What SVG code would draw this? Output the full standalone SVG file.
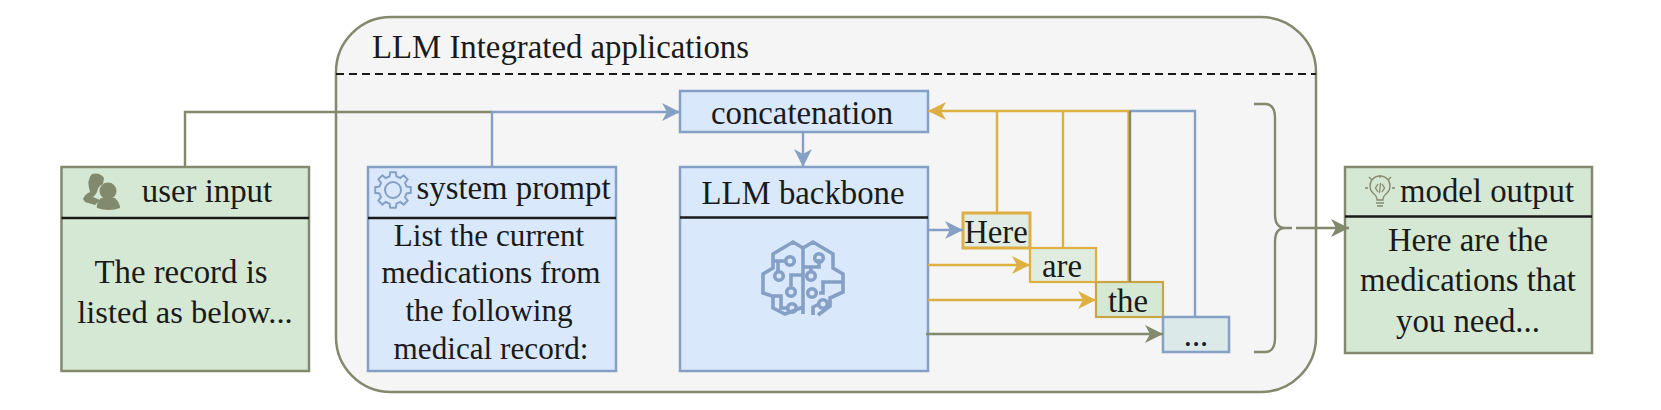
<svg xmlns="http://www.w3.org/2000/svg" width="1661" height="410" viewBox="0 0 1661 410">
<style>
text{font-family:"Liberation Serif","Times New Roman",serif;font-size:32.8px;fill:#1a1a1a;text-anchor:middle}
.s{font-size:31.2px}
.g{fill:#d5e8d4;stroke:#82896d;stroke-width:2.500}
.b{fill:#dae8fc;stroke:#85a0c4;stroke-width:2.500}
.d{stroke:#1a1a1a;stroke-width:2.500;fill:none}
.cb{stroke:#85a0c4;stroke-width:2.400;fill:none}
.cy{stroke:#deb043;stroke-width:2.400;fill:none}
.co{stroke:#82896d;stroke-width:2.400;fill:none}
.ic{fill:none;stroke:#85a0c4;stroke-width:3.600}
</style>
<defs>
<marker id="ab" markerUnits="userSpaceOnUse" markerWidth="20" markerHeight="20" refX="18" refY="10" orient="auto"><path d="M0 1L18 10L0 19L5 10Z" fill="#85a0c4"/></marker>
<marker id="ay" markerUnits="userSpaceOnUse" markerWidth="20" markerHeight="20" refX="18" refY="10" orient="auto"><path d="M0 1L18 10L0 19L5 10Z" fill="#deb043"/></marker>
<marker id="ao" markerUnits="userSpaceOnUse" markerWidth="20" markerHeight="20" refX="18" refY="10" orient="auto"><path d="M0 1L18 10L0 19L5 10Z" fill="#82896d"/></marker>
</defs>
<g id="container">
<rect x="336" y="17" width="980" height="375" rx="55" ry="55" fill="#f5f5f5" stroke="#82896d" stroke-width="2.500"/>
<path d="M336 74H1316" stroke="#1a1a1a" stroke-width="2" stroke-dasharray="8 5" fill="none"/>
<text x="372" y="58" style="text-anchor:start">LLM Integrated applications</text>
</g>
<g id="user-input">
<rect class="g" x="61.500" y="167" width="247.500" height="204"/>
<path class="d" d="M61.500 218H309"/>
<g fill="#82896d">
<path d="M92 174Q100 172 104 178L103 184Q98 186 97 192Q95 196 93 197L100 200L95 205L85 202L83 199Q85 194 90 192Q86 180 92 174Z"/>
<circle cx="108" cy="191" r="8.500"/>
<path d="M97 208Q96 203 101 198H115Q120 203 120 208Q109 212 97 208Z"/>
</g>
<text x="207" y="202">user input</text>
<text x="181" y="283">The record is</text>
<text x="185" y="323" style="font-size:32.5px">listed as below...</text>
</g>
<g id="system-prompt">
<rect class="b" x="368" y="167" width="248" height="204"/>
<path class="d" d="M368 218H616"/>
<g fill="none" stroke="#85a0c4" stroke-width="2" transform="translate(393 190)">
<circle r="8"/>
<path d="M13.600 -3.400L17.800 -2.800V2.800L13.600 3.400L12 7.200L14.600 10.600L10.600 14.600L7.200 12L3.400 13.600L2.800 17.800H-2.800L-3.400 13.600L-7.200 12L-10.600 14.600L-14.600 10.600L-12 7.200L-13.600 3.400L-17.800 2.800V-2.800L-13.600 -3.400L-12 -7.200L-14.600 -10.600L-10.600 -14.600L-7.200 -12L-3.400 -13.600L-2.800 -17.800H2.800L3.400 -13.600L7.200 -12L10.600 -14.600L14.600 -10.600L12 -7.200Z"/>
</g>
<text x="513.500" y="199">system prompt</text>
<text class="s" x="489" y="246">List the current</text>
<text class="s" x="491" y="283">medications from</text>
<text class="s" x="489" y="321">the following</text>
<text class="s" x="491" y="359">medical record:</text>
</g>
<g id="concatenation">
<rect class="b" x="680" y="91" width="248" height="41"/>
<text x="802" y="124">concatenation</text>
</g>
<g id="llm-backbone">
<rect class="b" x="680" y="167" width="248" height="204"/>
<path class="d" d="M680 217.500H928"/>
<text x="803" y="204">LLM backbone</text>
<g class="ic">
<path d="M803 248V314M803 248L793 242L773 254V268L763 274V293L772 296H781V308H788M773 296V308L785 314L803 307"/>
<path d="M803 248L813 242L833 254V268L843 274V292L830 298V306L818 315M813 315V307L819 304"/>
<path d="M773 261H785M778 261V272M803 275H791V286M803 267H819V259M811 267V272M819 293H823V282H843"/>
<circle cx="790" cy="261" r="4.300"/>
<circle cx="779" cy="276" r="4.300"/>
<circle cx="791" cy="292" r="4.300"/>
<circle cx="819" cy="258" r="4.300"/>
<circle cx="811" cy="276" r="4.300"/>
<circle cx="812" cy="293" r="4.300"/>
<circle cx="792" cy="308" r="4.300"/>
<circle cx="823" cy="304" r="4.300"/>
</g>
</g>
<g id="token-here">
<rect x="963" y="213" width="67" height="35" fill="#e0ece4" stroke="#deb043" stroke-width="3"/>
<text x="996" y="243">Here</text>
</g>
<g id="token-are">
<rect x="1030" y="248" width="66" height="34" fill="#e0ece0" stroke="#deb043" stroke-width="2.200"/>
<text x="1062" y="277">are</text>
</g>
<g id="token-the">
<rect x="1096" y="282" width="67" height="35" fill="#d5e8d4" stroke="#c9a545" stroke-width="2.200"/>
<text x="1128" y="312">the</text>
</g>
<g id="token-more">
<rect x="1163" y="317" width="66" height="35" fill="#dbe9e8" stroke="#85a0c4" stroke-width="2.500"/>
<text x="1196" y="346">...</text>
</g>
<g id="model-output">
<rect class="g" x="1345" y="167" width="247" height="186"/>
<path class="d" d="M1345 216.500H1592"/>
<g fill="none" stroke="#82896d" stroke-width="1.300">
<path d="M1377 200Q1377 196 1373 193A10 10 0 1 1 1387 193Q1383 196 1383 200Z"/>
<path d="M1376 203H1384M1377 206H1383M1380 175V178M1369 177L1372 180M1391 177L1388 180M1365 188H1368M1395 188H1392M1378 184L1375.500 188L1378 192M1382 184L1384.500 188L1382 192M1380.500 183L1379.500 193"/>
</g>
<text x="1487" y="202">model output</text>
<text x="1468" y="251">Here are the</text>
<text x="1468" y="291">medications that</text>
<text x="1468" y="332">you need...</text>
</g>
<g id="connectors">
<path class="co" d="M185 167V112H492"/>
<path class="cb" d="M492 167V112H680" marker-end="url(#ab)"/>
<path class="cb" d="M803 132V167" marker-end="url(#ab)"/>
<path class="cb" d="M928 230H963" marker-end="url(#ab)"/>
<path class="cy" d="M928 265H1030" marker-end="url(#ay)"/>
<path class="cy" d="M928 300H1096" marker-end="url(#ay)"/>
<path class="co" d="M926 334H1163" marker-end="url(#ao)"/>
<path class="cb" d="M1195 317V111H1129"/>
<path class="cy" d="M1128.500 282V111"/>
<path class="co" d="M1130 282V111" stroke-width="1.500"/>
<path class="cy" d="M1129 111H928" marker-end="url(#ay)"/>
<path class="cy" d="M997 213V111"/>
<path class="cy" d="M1063 248V111"/>
<path class="co" d="M1254 104H1265Q1275 104 1275 118V214Q1275 228 1285 228Q1275 228 1275 242V338Q1275 352 1265 352H1254"/>
<path class="co" d="M1285 228H1292M1296 228H1349" marker-end="url(#ao)"/>
</g>
</svg>
